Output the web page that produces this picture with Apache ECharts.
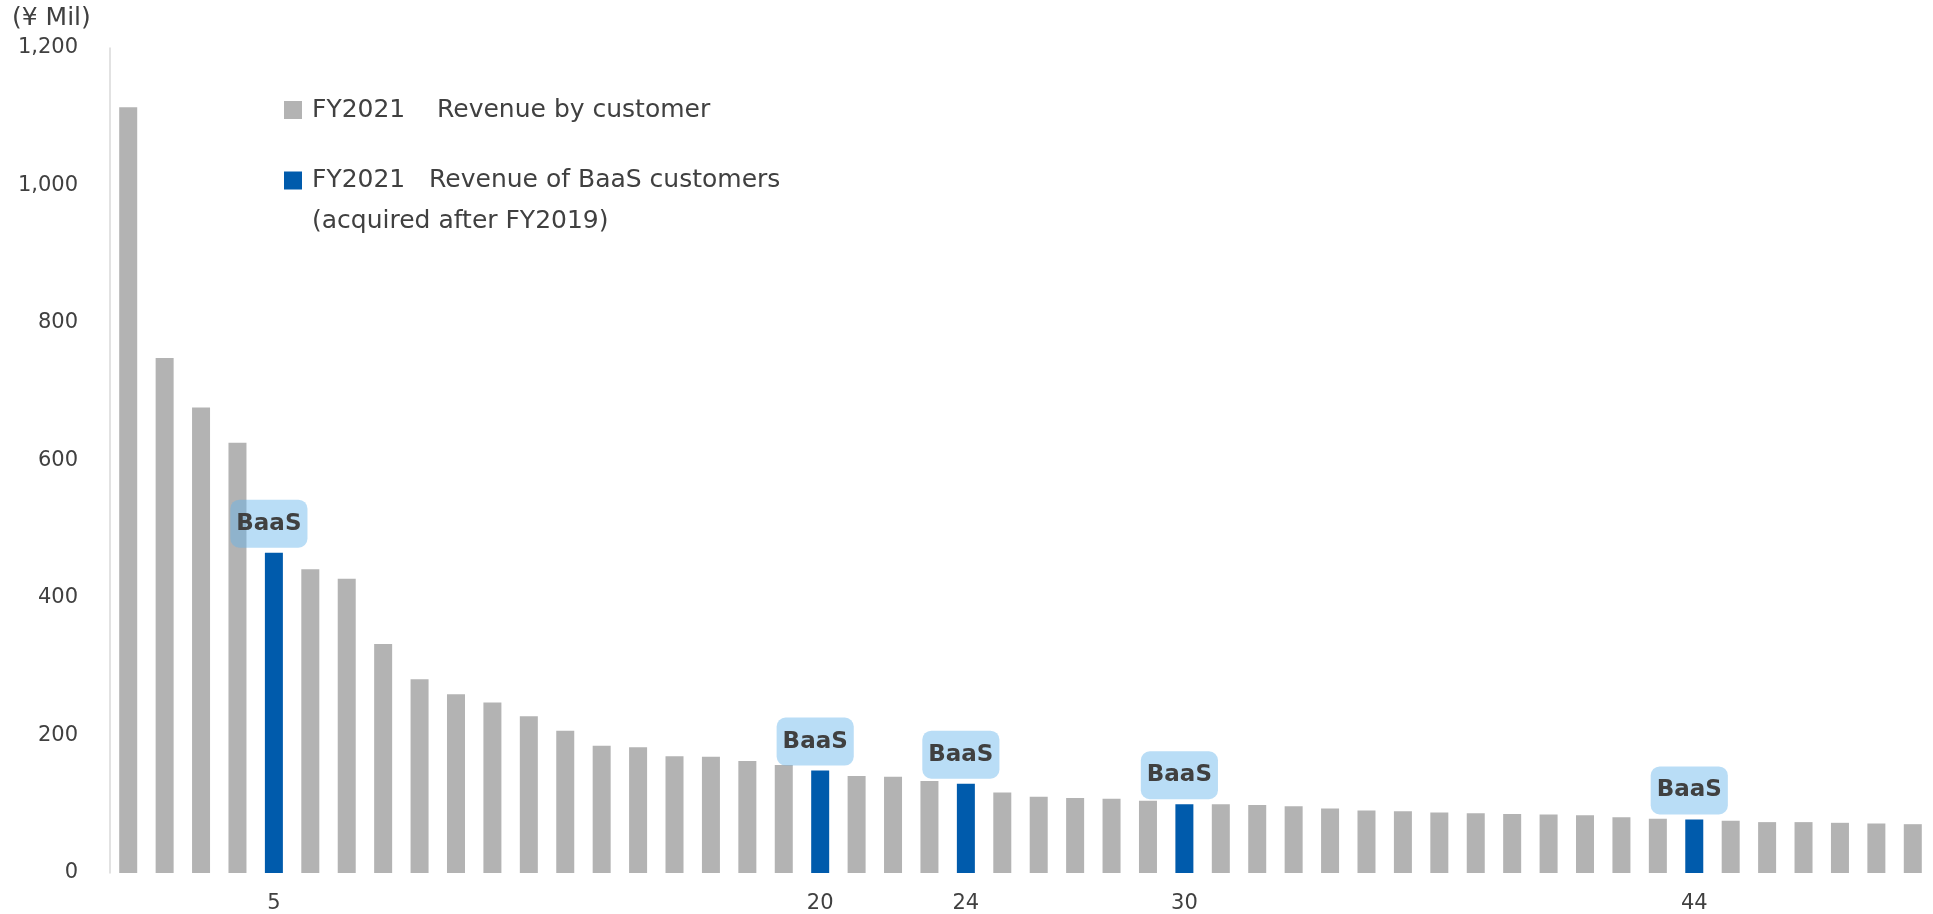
<!DOCTYPE html>
<html>
<head>
<meta charset="utf-8">
<script src="https://cdn.jsdelivr.net/npm/echarts@6/dist/echarts.min.js"></script>
<style>
    html, body { margin: 0; padding: 0; background: #fff; }
    #chart { width: 1933px; height: 914px; }
</style>
</head>
<body>
<div id="chart"></div>
<script>
// customer rank (x axis categories)
const ranks = [1, 2, 3, 4, 5, 6, 7, 8, 9, 10,
    11, 12, 13, 14, 15, 16, 17, 18, 19, 20,
    21, 22, 23, 24, 25, 26, 27, 28, 29, 30,
    31, 32, 33, 34, 35, 36, 37, 38, 39, 40,
    41, 42, 43, 44, 45, 46, 47, 48, 49, 50];
// FY2021 revenue by customer (¥ Mil)
const revenue = [1114, 749, 677, 626, 466, 442, 428, 333, 282, 260,
    248, 228, 207, 185, 183, 170, 169, 163, 157, 149,
    141, 140, 134, 130, 117, 111, 109, 108, 105, 100,
    100, 99, 97, 94, 91, 90, 88, 87, 86, 85,
    84, 81, 79, 78, 76, 74, 74, 73, 72, 71];
// BaaS customers acquired after FY2019 (also the only tick labels shown)
const baasRanks = [5, 20, 24, 30, 44];
const yTicks = [0, 200, 400, 600, 800, 1000, 1200];

const nameAll = 'FY2021    Revenue by customer';
const nameBaas = 'FY2021   Revenue of BaaS customers';
const nameBaasNote = '(acquired after FY2019)';

const font = '"DejaVu Sans", Verdana, sans-serif';
const textColor = '#404040';

const grayData = [];
const blueData = [];
for (let i = 0; i < ranks.length; i++) {
    const isBaas = baasRanks.indexOf(ranks[i]) >= 0;
    grayData.push(isBaas ? '-' : revenue[i]);
    blueData.push(isBaas ? revenue[i] : '-');
}

const chart = echarts.init(document.getElementById('chart'));
chart.setOption({
    animation: false,
    textStyle: { fontFamily: font },
    grid: { left: 110, right: 2, top: 48, bottom: 41 },
    graphic: [{
        type: 'text',
        left: 12,
        top: 6,
        style: { text: '(¥ Mil)', font: '25px ' + font, fill: textColor }
    }],
    legend: [{
        data: [nameAll],
        left: 284,
        top: 92,
        padding: 0,
        itemWidth: 18,
        itemHeight: 18,
        icon: 'rect',
        selectedMode: false,
        textStyle: {
            fontSize: 25, color: textColor,
            lineHeight: 30, padding: [0, 0, 6, 5]
        }
    }, {
        data: [nameBaas],
        left: 284,
        top: 116,
        padding: 0,
        itemWidth: 18,
        itemHeight: 18,
        icon: 'rect',
        selectedMode: false,
        formatter: function (name) {
            // empty first line keeps the marker level with the first text line
            return '\n' + name + '\n' + nameBaasNote;
        },
        textStyle: {
            fontSize: 25, color: textColor,
            lineHeight: 41, padding: [0, 0, 6, 5]
        }
    }],
    xAxis: {
        type: 'category',
        data: ranks,
        axisLine: { show: false },
        axisTick: { show: false },
        axisLabel: {
            margin: 20,
            fontSize: 21,
            color: textColor,
            interval: function (idx, val) { return baasRanks.indexOf(Number(val)) >= 0; }
        }
    },
    yAxis: {
        type: 'value',
        min: yTicks[0],
        max: yTicks[yTicks.length - 1],
        interval: 200,
        axisLine: { show: true, lineStyle: { color: '#d9d9d9', width: 1.5 } },
        axisTick: { show: false },
        splitLine: { show: false },
        axisLabel: {
            margin: 32,
            fontSize: 21,
            color: textColor,
            padding: [0, 0, 5, 0],
            formatter: function (v) { return v.toLocaleString('en-US'); }
        }
    },
    series: [{
        name: nameAll,
        type: 'bar',
        data: grayData,
        barWidth: 18,
        barGap: '-100%',
        itemStyle: { color: '#b3b3b3' }
    }, {
        name: nameBaas,
        type: 'bar',
        data: blueData,
        barWidth: 18,
        barGap: '-100%',
        itemStyle: { color: '#005bac' },
        label: {
            show: true,
            position: 'top',
            distance: 5,
            offset: [-5, 0],
            formatter: 'BaaS',
            fontSize: 23,
            fontWeight: 'bold',
            color: textColor,
            lineHeight: 24,
            backgroundColor: 'rgba(100,180,235,0.45)',
            borderRadius: 9,
            padding: [12, 6]
        }
    }]
});
</script>
</body>
</html>
